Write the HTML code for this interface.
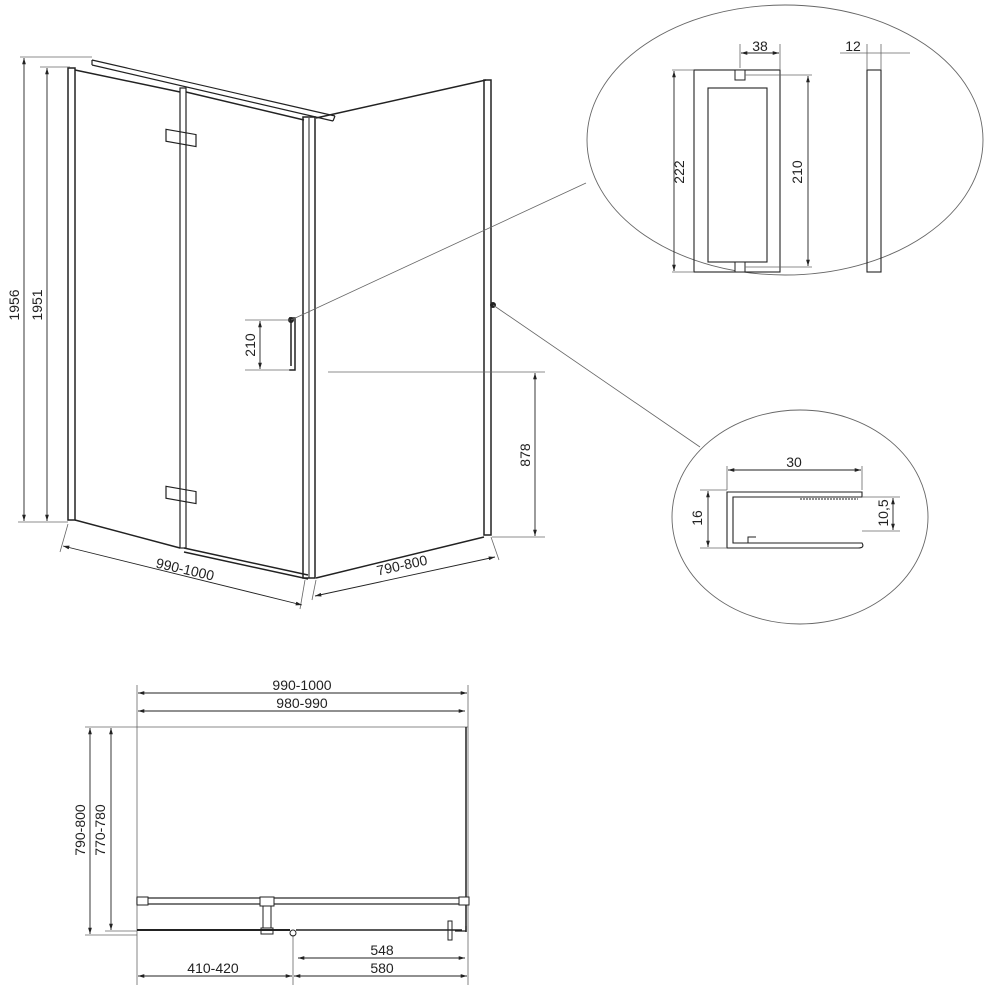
<!DOCTYPE html>
<html><head><meta charset="utf-8"><style>
html,body{margin:0;padding:0;background:#fff}
svg{display:block}
text{font-family:"Liberation Sans",sans-serif;font-size:14px;fill:#222}
</style></head><body>
<svg width="1000" height="1000" viewBox="0 0 1000 1000" xmlns="http://www.w3.org/2000/svg">
<defs>
<marker id="a" viewBox="0 0 10 10" refX="10" refY="5" markerWidth="7" markerHeight="7" orient="auto-start-reverse"><path d="M0,2 L10,5 L0,8 z" fill="#222"/></marker>
</defs>
<g stroke="#222" fill="none" stroke-width="1">
<rect x="68" y="68" width="7" height="452" stroke-width="1.5"/>
<line x1="75" y1="70" x2="180" y2="92" stroke-width="1.5"/>
<path d="M92,60 L335,116 M92,65 L333,121 M92,60 L92,65 M335,116 L333,121" stroke-width="1.2"/>
<rect x="180" y="88" width="6" height="460" stroke-width="1.2"/>
<line x1="186" y1="92" x2="304" y2="120" stroke-width="1.5"/>
<rect x="303" y="117" width="12" height="461" stroke-width="1.5"/>
<line x1="309" y1="118" x2="309" y2="578"/>
<line x1="75" y1="520" x2="180" y2="548" stroke-width="1.5"/>
<path d="M184,548 L308,575 M184,552 L308,579" stroke-width="1.5"/>
<line x1="316" y1="118" x2="486" y2="80" stroke-width="1.5"/>
<rect x="484" y="80" width="7" height="455" stroke-width="1.5"/>
<line x1="316" y1="578" x2="484" y2="537" stroke-width="1.5"/>
<rect x="166" y="130" width="30" height="12" stroke-width="1.2" transform="skewY(10) translate(0,-30)"/>
<rect x="166" y="487" width="30" height="12" stroke-width="1.2" transform="skewY(10) translate(0,-30)"/>
<path d="M289,318 L295,318 L295,370 L289,370 M291,322 L291,366" stroke-width="1.5"/>
<circle cx="291" cy="320" r="2.5" fill="#222"/>
<circle cx="493" cy="305" r="2.5" fill="#222"/>
<g stroke="#666" stroke-width="0.8">
<line x1="20" y1="57" x2="92" y2="57"/><line x1="40" y1="67" x2="70" y2="67"/>
<line x1="18" y1="522" x2="68" y2="522"/>
<line x1="245" y1="320" x2="290" y2="320"/><line x1="245" y1="370" x2="290" y2="370"/>
<line x1="328" y1="372" x2="545" y2="372"/><line x1="492" y1="537" x2="545" y2="537"/>
<line x1="68" y1="524" x2="60" y2="552"/><line x1="305" y1="580" x2="300" y2="609"/>
<line x1="316" y1="580" x2="312" y2="600"/><line x1="491" y1="537" x2="499" y2="560"/>
<line x1="291" y1="320" x2="586" y2="183"/><line x1="493" y1="305" x2="700" y2="447"/>
</g>
<g stroke="#222" stroke-width="0.9">
<line x1="24" y1="58" x2="24" y2="521" marker-start="url(#a)" marker-end="url(#a)"/>
<line x1="47" y1="68" x2="47" y2="521" marker-start="url(#a)" marker-end="url(#a)"/>
<line x1="260" y1="321" x2="260" y2="369" marker-start="url(#a)" marker-end="url(#a)"/>
<line x1="535" y1="373" x2="535" y2="536" marker-start="url(#a)" marker-end="url(#a)"/>
<line x1="63" y1="546" x2="302" y2="605" marker-start="url(#a)" marker-end="url(#a)"/>
<line x1="315" y1="596" x2="495" y2="557" marker-start="url(#a)" marker-end="url(#a)"/>
</g>
<ellipse cx="785" cy="140" rx="198" ry="135" stroke="#666" stroke-width="0.9"/>
<rect x="694" y="70" width="86" height="202" stroke-width="1.1"/>
<rect x="708" y="88" width="59" height="174" stroke-width="1.1"/>
<path d="M735,70 L745,70 L745,80 L735,80 z M735,262 L745,262 L745,272 L735,272 z" fill="#fff"/>
<rect x="867" y="70" width="14" height="202" stroke-width="1.1"/>
<g stroke="#666" stroke-width="0.8">
<line x1="672" y1="70" x2="694" y2="70"/><line x1="672" y1="272" x2="694" y2="272"/>
<line x1="745" y1="75" x2="812" y2="75"/><line x1="745" y1="267" x2="812" y2="267"/>
<line x1="740" y1="44" x2="740" y2="68"/><line x1="780" y1="44" x2="780" y2="70"/>
<line x1="867" y1="44" x2="867" y2="70"/><line x1="881" y1="44" x2="881" y2="70"/>
<line x1="840" y1="53" x2="910" y2="53"/>
</g>
<g stroke-width="0.9">
<line x1="674" y1="71" x2="674" y2="271" marker-start="url(#a)" marker-end="url(#a)"/>
<line x1="808" y1="76" x2="808" y2="266" marker-start="url(#a)" marker-end="url(#a)"/>
<line x1="741" y1="53" x2="779" y2="53" marker-start="url(#a)" marker-end="url(#a)"/>
</g>
<ellipse cx="800" cy="517" rx="128" ry="107" stroke="#666" stroke-width="0.9"/>
<path d="M727,492 L862,492 L862,497 L733,497 L733,543 L862,543 Q865,548 858,548 L727,548 z" stroke-width="1.1"/>
<path d="M800,497 L860,497 M800,499 L858,499" stroke-width="1" stroke-dasharray="2,1"/>
<path d="M748,543 L748,537 L756,537" stroke-width="1"/>
<g stroke="#666" stroke-width="0.8">
<line x1="727" y1="466" x2="727" y2="490"/><line x1="862" y1="466" x2="862" y2="490"/>
<line x1="700" y1="490" x2="727" y2="490"/><line x1="700" y1="548" x2="727" y2="548"/>
<line x1="862" y1="497" x2="900" y2="497"/><line x1="862" y1="531" x2="900" y2="531"/>
</g>
<g stroke-width="0.9">
<line x1="728" y1="470" x2="861" y2="470" marker-start="url(#a)" marker-end="url(#a)"/>
<line x1="708" y1="491" x2="708" y2="547" marker-start="url(#a)" marker-end="url(#a)"/>
<line x1="893" y1="498" x2="893" y2="530" marker-start="url(#a)" marker-end="url(#a)"/>
</g>
<line x1="137" y1="727" x2="468" y2="727" stroke="#888"/>
<line x1="466" y1="727" x2="466" y2="932" stroke-width="1.5"/>
<line x1="137" y1="685" x2="137" y2="985" stroke="#666" stroke-width="0.8"/>
<line x1="468" y1="685" x2="468" y2="985" stroke="#666" stroke-width="0.8"/>
<line x1="85" y1="727" x2="137" y2="727" stroke="#666" stroke-width="0.8"/>
<line x1="85" y1="935" x2="137" y2="935" stroke="#666" stroke-width="0.8"/>
<line x1="105" y1="931" x2="137" y2="931" stroke="#666" stroke-width="0.8"/>
<line x1="293" y1="935" x2="293" y2="985" stroke="#666" stroke-width="0.8"/>
<rect x="137" y="898" width="330" height="6" stroke-width="1.2"/>
<rect x="137" y="897" width="11" height="8" fill="#fff"/>
<rect x="459" y="897" width="10" height="8" fill="#fff"/>
<rect x="260" y="897" width="14" height="9" fill="#fff"/>
<rect x="263" y="906" width="8" height="22" fill="#fff"/>
<rect x="261" y="928" width="12" height="6" fill="#fff"/>
<line x1="137" y1="930" x2="290" y2="930" stroke-width="2"/>
<line x1="296" y1="930" x2="462" y2="930" stroke-width="1.5"/>
<circle cx="293" cy="933" r="3"/>
<rect x="448" y="921" width="4" height="19"/>
<path d="M455,931 L466,931 L466,926" stroke-width="1.2"/>
<g stroke-width="0.9">
<line x1="138" y1="693" x2="467" y2="693" marker-start="url(#a)" marker-end="url(#a)"/>
<line x1="138" y1="711" x2="465" y2="711" marker-start="url(#a)" marker-end="url(#a)"/>
<line x1="90" y1="728" x2="90" y2="934" marker-start="url(#a)" marker-end="url(#a)"/>
<line x1="111" y1="728" x2="111" y2="930" marker-start="url(#a)" marker-end="url(#a)"/>
<line x1="298" y1="958" x2="465" y2="958" marker-start="url(#a)" marker-end="url(#a)"/>
<line x1="294" y1="976" x2="467" y2="976" marker-start="url(#a)" marker-end="url(#a)"/>
<line x1="138" y1="976" x2="292" y2="976" marker-start="url(#a)" marker-end="url(#a)"/>
</g>
</g>
<g>
<text x="19" y="305" transform="rotate(-90 19 305)" text-anchor="middle">1956</text>
<text x="42" y="305" transform="rotate(-90 42 305)" text-anchor="middle">1951</text>
<text x="255" y="345" transform="rotate(-90 255 345)" text-anchor="middle">210</text>
<text x="530" y="455" transform="rotate(-90 530 455)" text-anchor="middle">878</text>
<text x="184" y="574" transform="rotate(13 184 574)" text-anchor="middle">990-1000</text>
<text x="403" y="570" transform="rotate(-12.5 403 570)" text-anchor="middle">790-800</text>
<text x="684" y="172" transform="rotate(-90 684 172)" text-anchor="middle">222</text>
<text x="802" y="172" transform="rotate(-90 802 172)" text-anchor="middle">210</text>
<text x="760" y="51" text-anchor="middle">38</text>
<text x="853" y="51" text-anchor="middle">12</text>
<text x="794" y="467" text-anchor="middle">30</text>
<text x="702" y="518" transform="rotate(-90 702 518)" text-anchor="middle">16</text>
<text x="888" y="513" transform="rotate(-90 888 513)" text-anchor="middle">10,5</text>
<text x="302" y="690" text-anchor="middle">990-1000</text>
<text x="302" y="708" text-anchor="middle">980-990</text>
<text x="85" y="830" transform="rotate(-90 85 830)" text-anchor="middle">790-800</text>
<text x="105" y="830" transform="rotate(-90 105 830)" text-anchor="middle">770-780</text>
<text x="382" y="955" text-anchor="middle">548</text>
<text x="382" y="973" text-anchor="middle">580</text>
<text x="213" y="973" text-anchor="middle">410-420</text>
</g>
</svg>
</body></html>
